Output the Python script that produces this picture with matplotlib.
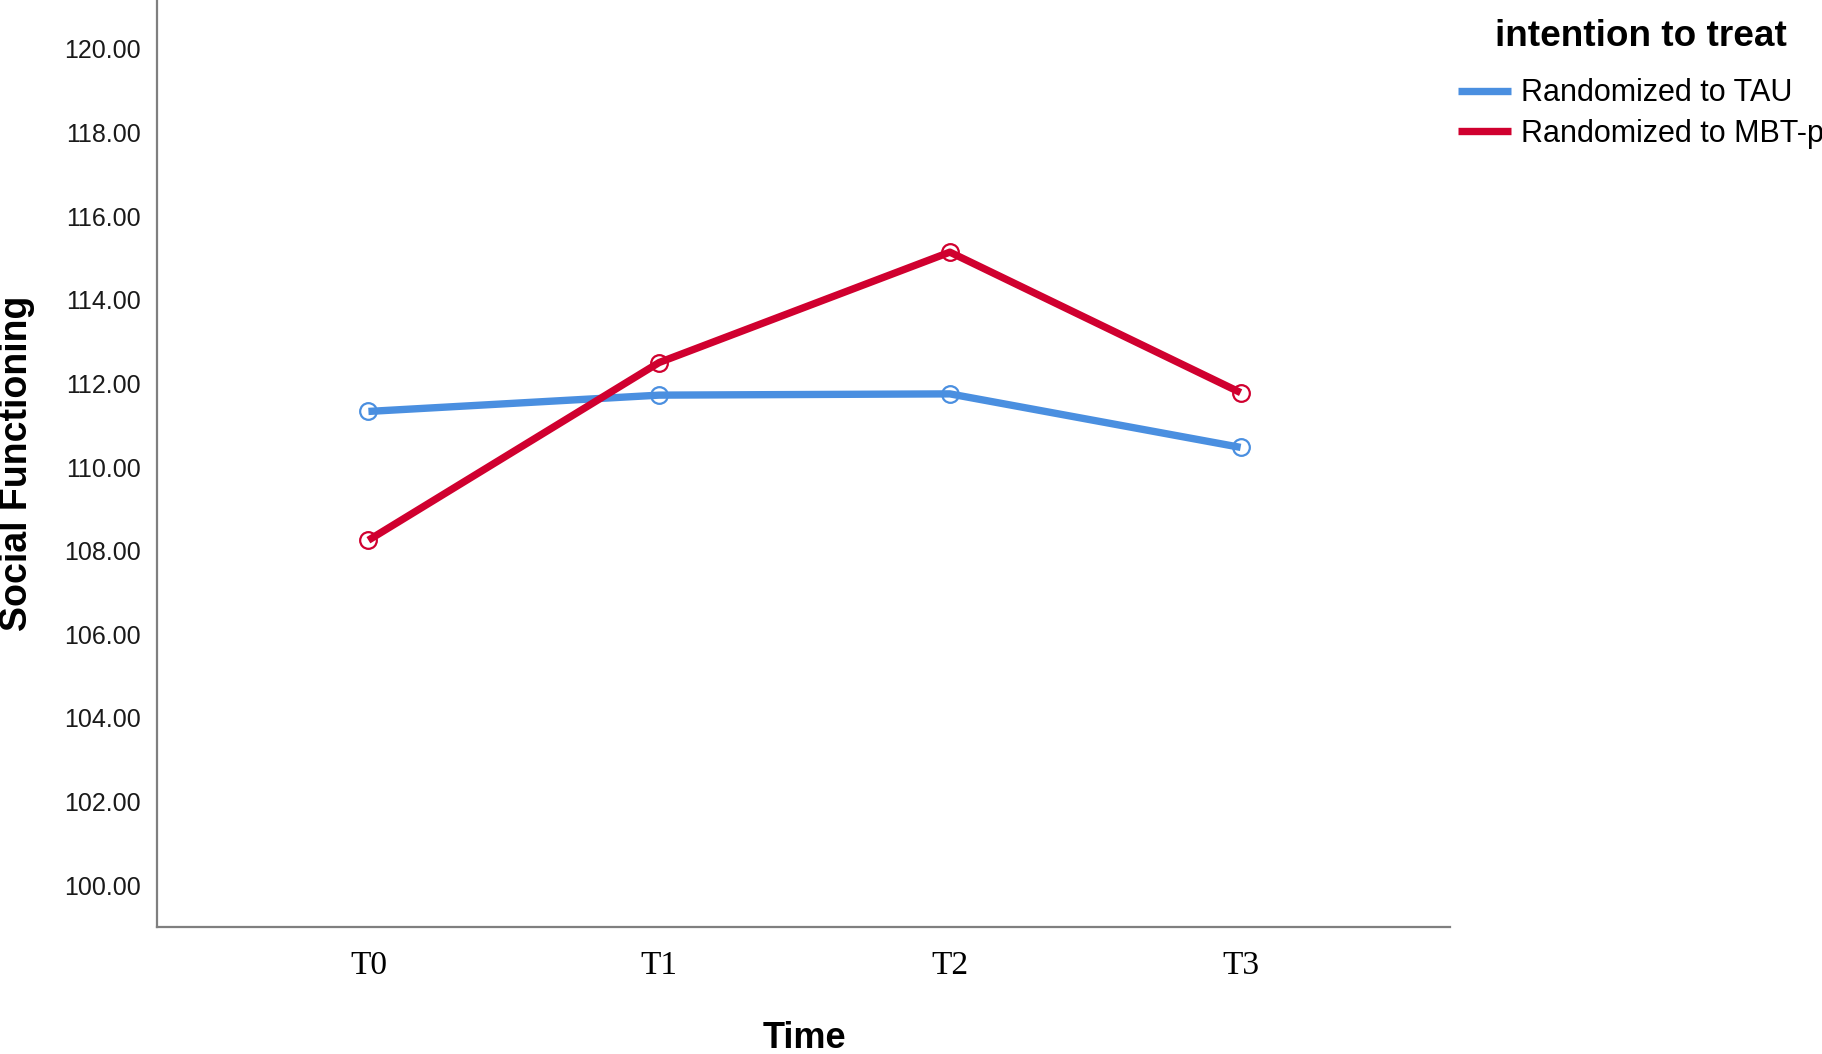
import matplotlib
matplotlib.use("Agg")
import matplotlib.pyplot as plt

# Data
time_points = ["T0", "T1", "T2", "T3"]
tau_values = [111.33, 111.72, 111.75, 110.47]
mbt_values = [108.25, 112.50, 115.14, 111.78]
series_labels = ["Randomized to TAU", "Randomized to MBT-p"]
legend_title = "intention to treat"
yticks = [100, 102, 104, 106, 108, 110, 112, 114, 116, 118, 120]

blue = "#4a8fe0"
red = "#d0002f"
LW = 5.3

fig = plt.figure(figsize=(18.22, 10.54), dpi=100)
ax = fig.add_axes([0.0862, 0.1205, 0.7096, 0.8795])

x = list(range(len(time_points)))
l1, = ax.plot(x, tau_values, color=blue, lw=LW, marker="o", ms=12,
              mfc="none", mec=blue, mew=1.6, solid_capstyle="butt", zorder=3)
l2, = ax.plot(x, mbt_values, color=red, lw=LW, marker="o", ms=12,
              mfc="none", mec=red, mew=1.6, solid_capstyle="butt", zorder=4)

ax.set_xlim(-0.727, 3.72)
ax.set_ylim(99.0, 121.17)
ax.set_xticks(x)
ax.set_xticklabels(time_points, fontfamily="Liberation Serif", fontsize=24)
ax.set_yticks(yticks)
ax.set_yticklabels([f"{v:.2f}" for v in yticks], fontfamily="Liberation Sans",
                   fontsize=18, color="#1a1a1a")
ax.tick_params(axis="both", length=0)
ax.tick_params(axis="y", pad=12)
ax.tick_params(axis="x", pad=17)

for s in ["top", "right"]:
    ax.spines[s].set_visible(False)
for s in ["left", "bottom"]:
    ax.spines[s].set_color("#7f7f7f")
    ax.spines[s].set_linewidth(1.6)

ax.set_xlabel("Time", fontfamily="Liberation Sans", fontweight="bold", fontsize=26)
ax.xaxis.set_label_coords(0.501, -0.101)
ax.set_ylabel("Social Functioning", fontfamily="Liberation Sans", fontweight="bold", fontsize=27)
ax.yaxis.set_label_coords(-0.0947, 0.50)

fig.text(0.9006, 0.9658, legend_title, ha="center", va="center",
         fontfamily="Liberation Sans", fontweight="bold", fontsize=26.6)

leg = fig.legend([l1, l2], series_labels, loc="upper left",
                 bbox_to_anchor=(0.8002, 0.9256), frameon=False,
                 prop={"family": "Liberation Sans", "size": 22},
                 handlelength=1.75, handletextpad=0.3, labelspacing=0.35,
                 borderaxespad=0.0, borderpad=0.0)
for h in leg.legend_handles:
    h.set_marker("")
    h.set_linewidth(LW)

fig.savefig("out.png", dpi=100)
